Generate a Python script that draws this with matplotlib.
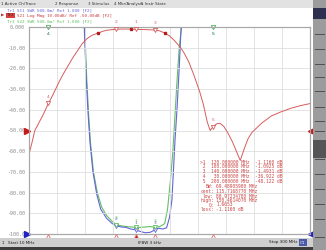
import numpy as np
import matplotlib.pyplot as plt
from matplotlib.patches import Rectangle

W, H = 326, 250

# S21 log mag (dB)
freq_s21 = [10, 13, 16, 20, 25, 30, 35, 40, 45, 50, 55, 60, 65, 70, 75, 81, 86, 90,
            95, 100, 105, 110, 115, 120, 125, 130, 135, 140, 145, 150.5, 155, 160,
            166, 170, 175, 180, 186, 190, 194, 197, 200, 204, 207, 211, 215, 220,
            224, 228, 232, 236, 240, 250, 260, 270, 280, 290, 300]
s21_db = [-61.3, -56.0, -50.0, -46.5, -42.0, -36.9, -32.5, -27.5, -23.0, -19.0, -15.0,
          -11.5, -8.0, -5.6, -4.0, -3.0, -2.1, -1.6, -1.3, -1.09, -1.0, -0.98, -1.02,
          -1.116, -1.2, -1.25, -1.35, -1.49, -1.9, -3.0, -4.3, -6.5, -9.7, -12.5,
          -17.0, -23.0, -31.0, -37.5, -46.0, -50.0, -48.1, -46.7, -46.5, -48.0,
          -51.0, -55.5, -60.0, -64.5, -59.0, -54.0, -51.0, -46.5, -43.0, -41.0,
          -39.3, -38.0, -37.0]

# S11 SWR (display tops out at 6.0)
freq_s11 = [10, 66, 67, 69, 71, 73, 76, 80, 84, 90, 96, 100, 105, 110, 115, 120, 125,
            130, 135, 140, 144, 148, 152, 155, 157.5, 159, 160.7, 162.7, 165, 167, 300]
s11_swr = [6.0, 6.0, 6.0, 4.8, 3.9, 3.2, 2.5, 1.95, 1.6, 1.38, 1.25, 1.2, 1.17, 1.16,
           1.12, 1.1, 1.06, 1.03, 1.04, 1.1, 1.14, 1.12, 1.15, 1.4, 1.82, 2.5, 3.27,
           4.0, 5.0, 6.0, 6.0]

# S22 SWR
freq_s22 = [10, 67, 67.5, 69.5, 71.5, 73.5, 76.5, 80.5, 85, 90, 96, 100, 105, 110, 115,
            120, 125, 130, 135, 140, 145, 150, 153, 156, 158.5, 160.5, 162.5, 165,
            167.5, 300]
s22_swr = [6.0, 6.0, 6.0, 4.8, 3.9, 3.2, 2.5, 2.0, 1.65, 1.45, 1.3, 1.22, 1.2, 1.18,
           1.17, 1.16, 1.16, 1.17, 1.18, 1.16, 1.18, 1.25, 1.6, 2.3, 3.0, 3.8, 4.6,
           5.5, 6.0, 6.0]

mkr_names = ['1', '2', '3', '4', '5']
mkr_freq = [120, 100, 140, 30, 200]
mkr_s21 = [-1.1160, -1.0925, -1.4931, -36.922, -48.122]
mkr_s11 = [1.1, 1.2, 1.1, 6.0, 6.0]
mkr_s22 = [1.16, 1.22, 1.16, 6.0, 6.0]

bw_freq = [80.97234700, 115.7168770, 150.4614070]
bw_level = [-3.0, -1.02, -3.0]
bw_labels = ['BW:', 'cent:', 'low:', 'high:', 'Q:', 'loss:']
bw_values = ['69.48905900 MHz', '115.7168770 MHz', '80.97234700 MHz',
             '150.4614070 MHz', '1.6653', '-1.1160 dB']

ytick_labels = ['-100.0', '-90.00', '-80.00', '-70.00', '-60.00', '-50.00',
                '-40.00', '-30.00', '-20.00', '-10.00', '0.000']
menu_items = ['1 Active Ch/Trace', '2 Response', '3 Stimulus', '4 Mkr/Analysis',
              '5 Instr State']
menu_x = [1, 55, 88, 114, 141]

RED = '#d65c5c'
BLUE = '#6464d8'
GREEN = '#62c062'
MONO = 'DejaVu Sans Mono'


def fx(x):
    return x / W


def fy(y):
    return 1 - y / H


fig = plt.figure(figsize=(W / 100, H / 100), dpi=100)
fig.patch.set_facecolor('white')

# menu bar, status bar, side panel
fig.patches.append(Rectangle((0, fy(8)), 1, 8 / H, transform=fig.transFigure,
                             facecolor='#e2e2e2', edgecolor='none'))
for s, x in zip(menu_items, menu_x):
    fig.text(fx(x), fy(4), s, fontsize=2.9, color='#303030', va='center')
fig.patches.append(Rectangle((0, fy(247)), fx(313), 9 / H, transform=fig.transFigure,
                             facecolor='#cfcfcf', edgecolor='none'))
fig.patches.append(Rectangle((0, 0), 1, 3 / H, transform=fig.transFigure,
                             facecolor='#3c3c3c', edgecolor='none'))
fig.patches.append(Rectangle((fx(313), 0), 13 / W, fy(0), transform=fig.transFigure,
                             facecolor='#9c9c9c', edgecolor='none'))
fig.patches.append(Rectangle((fx(313), fy(19)), 13 / W, 11 / H, transform=fig.transFigure,
                             facecolor='#2e3050', edgecolor='none'))
for y in [35, 50, 65, 78, 92, 108, 122, 132, 160, 175, 190, 205, 220, 238]:
    fig.patches.append(Rectangle((fx(315), fy(y)), 10 / W, 1 / H,
                                 transform=fig.transFigure,
                                 facecolor='#505050', edgecolor='none'))
fig.patches.append(Rectangle((fx(313), fy(158)), 13 / W, 18 / H, transform=fig.transFigure,
                             facecolor='#555555', edgecolor='none'))
fig.text(fx(2), fy(242.5), '1', fontsize=3, color='#202020', va='center')
fig.text(fx(8), fy(242.5), 'Start 10 MHz', fontsize=3, color='#202020', va='center')
fig.text(fx(150), fy(242.5), 'IFBW 3 kHz', fontsize=3, color='#202020', va='center',
         ha='center')
fig.text(fx(297), fy(242.5), 'Stop 300 MHz', fontsize=3, color='#202020', va='center',
         ha='right')
fig.text(fx(300), fy(242.5), 'C1', fontsize=3, color='white', va='center',
         bbox=dict(boxstyle='square,pad=0.3', facecolor='#4a5aa8', edgecolor='none'))

# trace header lines
fig.text(fx(7), fy(10), 'Tr1 S11 SWR 500.0m/ Ref 1.000 [F2]', fontsize=3.1,
         family=MONO, color=BLUE, va='center')
fig.text(fx(0.5), fy(15.5), '\u25b6', fontsize=3.1, family='DejaVu Sans', color='#c03030',
         va='center')
fig.text(fx(7), fy(15.5), 'Tr2', fontsize=3.1, family=MONO, color='#402020', va='center',
         bbox=dict(boxstyle='square,pad=0.15', facecolor='#d84040', edgecolor='none'))
fig.text(fx(7 + 4 * 2.55), fy(15.5), 'S21 Log Mag 10.00dB/ Ref -50.00dB [F2]',
         fontsize=3.1, family=MONO, color='#c83c3c', va='center')
fig.text(fx(7), fy(21), 'Tr3 S22 SWR 500.0m/ Ref 1.000 [F2]', fontsize=3.1,
         family=MONO, color=GREEN, va='center')

# plot area
ax = fig.add_axes([fx(29), fy(234), 281 / W, 207 / H])
ax2 = ax.twinx()
ax.set_zorder(ax2.get_zorder() + 1)
ax.patch.set_visible(False)
ax2.patch.set_facecolor('white')

ax.set_xlim(10, 300)
ax.set_ylim(-100, 0)
ax2.set_ylim(1, 6)
ax.set_xticks(np.linspace(10, 300, 11))
ax.set_yticks(np.arange(-100, 1, 10))
ax.set_yticklabels(ytick_labels)
ax.tick_params(axis='y', length=0, pad=3, labelsize=3.6, labelcolor='#8a8a8a')
ax.tick_params(axis='x', length=0, labelbottom=False)
for t in ax.get_yticklabels():
    t.set_family(MONO)
ax2.set_yticks([])
ax.grid(True, color='#dedede', linewidth=0.6)
for a in (ax, ax2):
    for sp in a.spines.values():
        sp.set_color('#a8a8a8')
        sp.set_linewidth(0.8)

ax2.plot(freq_s22, s22_swr, color=GREEN, lw=0.8)
ax2.plot(freq_s11, s11_swr, color=BLUE, lw=0.8)
ax.plot(freq_s21, s21_db, color=RED, lw=0.7)

# bandwidth search markers
ax.plot(bw_freq, bw_level, 's', color='#b02020', markersize=1.6, zorder=5)

# markers on the traces
for n, f, v in zip(mkr_names, mkr_freq, mkr_s21):
    ax.plot(f, v, marker='v', markersize=3, mfc='white', mec=RED, mew=0.6,
            clip_on=False, zorder=6)
    ax.annotate(n, (f, v), xytext=(0, 3.5), textcoords='offset points', ha='center',
                va='bottom', fontsize=3.2, color=RED, annotation_clip=False)
for vals, col in ((mkr_s11, BLUE), (mkr_s22, GREEN)):
    for n, f, v in zip(mkr_names, mkr_freq, vals):
        ax2.plot(f, v, marker='v', markersize=3, mfc='white', mec=col, mew=0.6,
                 clip_on=False, zorder=6)
        off = -3.5 if v >= 6 else 3.5
        ax2.annotate(n, (f, v), xytext=(0, off), textcoords='offset points',
                     ha='center', va='top' if off < 0 else 'bottom', fontsize=3.2,
                     color=col, annotation_clip=False)

# stimulus indicators under the grid
xt = ax.get_xaxis_transform()
for n, f in zip(mkr_names, mkr_freq):
    ax.plot(f, -0.016, marker='^', markersize=4, transform=xt, clip_on=False,
            mec='#e07070', mfc='#c81818' if n == '1' else 'white', mew=0.6, zorder=6)

# reference level arrows
yt = ax.get_yaxis_transform()
ax.plot(-0.006, -50, marker='>', markersize=4, color='#c81818', transform=yt, clip_on=False)
ax.plot(1.004, -50, marker='<', markersize=4, color='#c81818', transform=yt, clip_on=False)
ax.plot(-0.006, -100, marker='>', markersize=4, color='#2020c0', transform=yt,
        clip_on=False)
ax.plot(1.004, -100, marker='<', markersize=4, color='#2020c0', transform=yt,
        clip_on=False)

# marker readout table
for i, (n, f, v) in enumerate(zip(mkr_names, mkr_freq, mkr_s21)):
    val = f'{v:.4f}' if abs(v) < 10 else f'{v:.3f}'
    row = f"{'>' if i == 0 else ' '}{n} {f:11.6f} MHz {val:>8} dB"
    fig.text(fx(200), fy(162 + 4.8 * i), row, fontsize=3.3, family=MONO,
             color='#cc4444', va='center')
for i, (lab, val) in enumerate(zip(bw_labels, bw_values)):
    y = fy(187 + 4.5 * i)
    fig.text(fx(214), y, lab, fontsize=3.3, family=MONO, color='#cc4444', va='center',
             ha='right')
    fig.text(fx(216), y, val, fontsize=3.3, family=MONO, color='#cc4444', va='center')

fig.savefig('out.png', dpi=100)
